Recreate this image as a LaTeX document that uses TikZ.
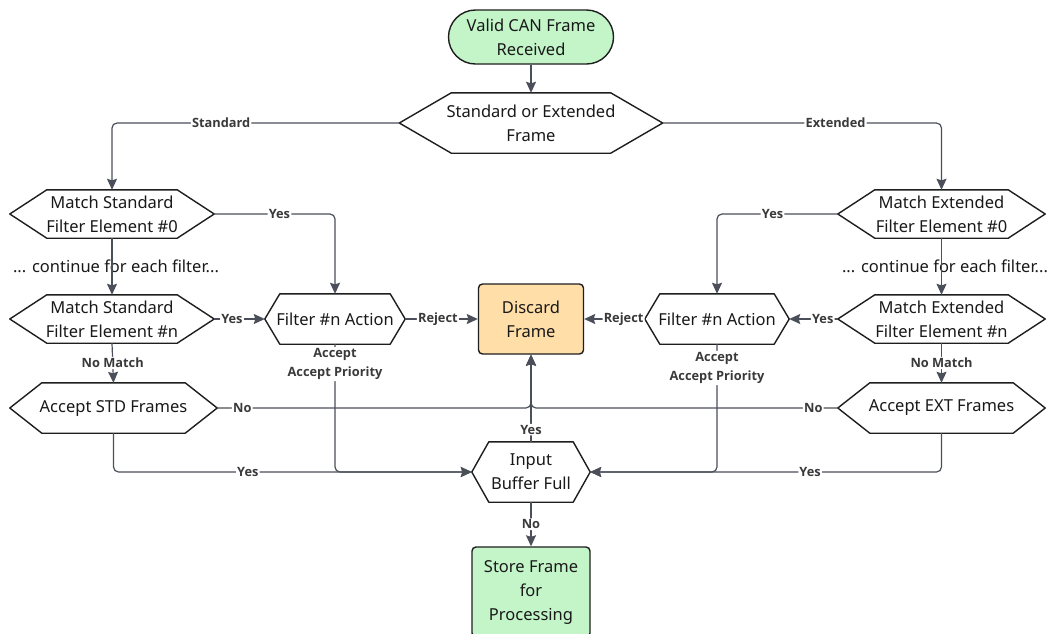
\documentclass[tikz,border=0pt]{standalone}
\usepackage{fontspec}
\setmainfont{Noto Sans}
\newfontfamily\lblfont{Open Sans}
\usetikzlibrary{arrows.meta,backgrounds,calc}
\definecolor{edge}{HTML}{4A4F59}
\definecolor{border}{HTML}{1E1E1E}
\definecolor{greenfill}{HTML}{C3F5C9}
\definecolor{orangefill}{HTML}{FFDEA8}
\definecolor{lbltext}{HTML}{3A3A3A}
\tikzset{
 txt/.style={font=\fontsize{16.5}{24}\selectfont, text=black!90, align=center},
 hexbox/.style={txt, inner sep=0pt, draw=none},
 hexline/.style={draw=border, line width=1.4pt, fill=white, line join=round},
 boxnode/.style={txt, draw=border, line width=1.4pt, rounded corners=4pt, inner sep=0pt},
 conn/.style={draw=edge, line width=1.2pt, rounded corners=5pt, -{Stealth[length=11pt,width=10pt,inset=1.5pt]}},
 lbl/.style={font=\lblfont\bfseries\fontsize{12.8}{19.5}\selectfont, text=lbltext, fill=white, inner sep=1.2pt, align=center},
}
\newcommand{\hexnode}[7]{%
 \node[hexbox, minimum width=#4pt, minimum height=#5pt] (#1) at (#2,#3) {#7};
 \begin{pgfonlayer}{background}
 \draw[hexline] (#1.west) -- ([xshift=#6pt]#1.north west) -- ([xshift=-#6pt]#1.north east) -- (#1.east) -- ([xshift=-#6pt]#1.south east) -- ([xshift=#6pt]#1.south west) -- cycle;
 \end{pgfonlayer}}
\begin{document}
\begin{tikzpicture}[x=1pt,y=-1pt]
\useasboundingbox (0,0) rectangle (1050,633);
\node[boxnode, fill=greenfill, rounded corners=27pt, minimum width=165pt, minimum height=54pt] (start) at (531,37) {Valid CAN Frame\\Received};
\hexnode{sde}{531}{123}{263}{60}{52}{Standard or Extended\\Frame}
\hexnode{ms0}{112}{214}{204}{48}{37}{Match Standard\\Filter Element \#0}
\hexnode{msn}{112}{319}{204}{48}{37}{Match Standard\\Filter Element \#n}
\hexnode{astd}{113.5}{408}{207}{50}{32}{Accept STD Frames}
\hexnode{fl}{335}{319}{140}{50}{15}{Filter \#n Action}
\node[boxnode, fill=orangefill, minimum width=105pt, minimum height=70pt] (discard) at (531,319) {Discard\\Frame};
\hexnode{fr}{717}{319}{144}{50}{15}{Filter \#n Action}
\hexnode{me0}{941.5}{214}{207}{48}{37}{Match Extended\\Filter Element \#0}
\hexnode{men}{941.5}{319}{207}{48}{37}{Match Extended\\Filter Element \#n}
\hexnode{aext}{941.5}{408}{207}{50}{32}{Accept EXT Frames}
\hexnode{ib}{531}{472}{118}{60}{17}{Input\\Buffer Full}
\node[boxnode, fill=greenfill, minimum width=118pt, minimum height=90pt] (store) at (531,592) {Store Frame\\for\\Processing};
\node[txt] (c1) at (116,266) {... continue for each filter...};
\node[txt] (c2) at (945,266) {... continue for each filter...};
% connectors
\draw[conn] (start) -- (sde);
\draw[conn] (sde.west) -| node[lbl,pos=0.31]{Standard} (ms0.north);
\draw[conn] (sde.east) -| node[lbl,pos=0.31]{Extended} (me0.north);
\draw[conn] (ms0.south) -- (msn.north);
\draw[conn] (me0.south) -- (men.north);
\draw[conn] (ms0.east) -| node[lbl,pos=0.27]{Yes} (fl.north);
\draw[conn] (me0.west) -| node[lbl,pos=0.27]{Yes} (fr.north);
\draw[conn] (msn.east) -- node[lbl,pos=0.35]{Yes} (fl.west);
\draw[conn] (men.west) -- node[lbl,pos=0.31]{Yes} (fr.east);
\draw[conn] (fl.east) -- node[lbl,pos=0.45]{Reject} (discard.west);
\draw[conn] (fr.west) -- node[lbl,pos=0.35]{Reject} (discard.east);
\draw[conn] (msn.south) -- node[lbl]{No Match} (astd.north);
\draw[conn] (men.south) -- node[lbl]{No Match} (aext.north);
\draw[conn] (fl.south) |- node[lbl,pos=0.078]{Accept\\Accept Priority} (ib.west);
\draw[conn] (fr.south) |- node[lbl,pos=0.093]{Accept\\Accept Priority} (ib.east);
\draw[conn] (astd.south) |- node[lbl,pos=0.6875]{Yes} (ib.west);
\draw[conn] (aext.south) |- node[lbl,pos=0.687]{Yes} (ib.east);
\draw[conn] (astd.east) -| node[lbl,pos=0.04]{No} (discard.south);
\draw[conn] (aext.west) -| node[lbl,pos=0.04]{No} (discard.south);
\draw[conn] (ib.north) -- node[lbl,pos=0.14]{Yes} (discard.south);
\draw[conn] (ib.south) -- node[lbl]{No} (store.north);
\end{tikzpicture}
\end{document}
